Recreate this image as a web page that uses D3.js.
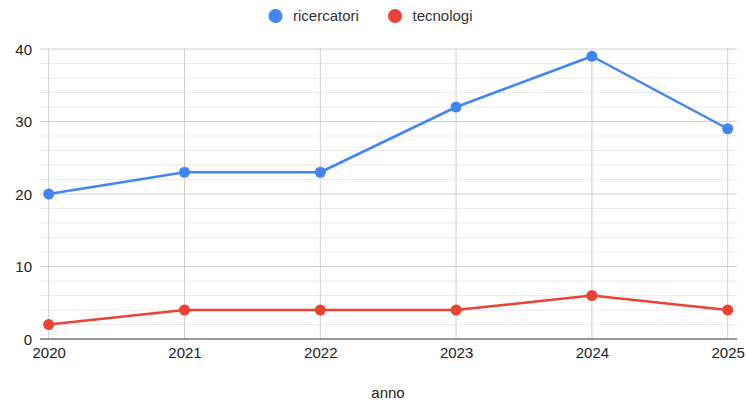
<!DOCTYPE html>
<html>
<head>
<meta charset="utf-8">
<script src="https://cdn.jsdelivr.net/npm/d3@7"></script>
<style>
  html, body { margin: 0; padding: 0; background: #fff; }
  svg { display: block; font-family: Arial, "Liberation Sans", sans-serif; }
</style>
</head>
<body>
<svg id="chart" width="747" height="400"></svg>
<script>
// Anni e valori delle due serie
const years = [2020, 2021, 2022, 2023, 2024, 2025];
const ricercatori = [20, 23, 23, 32, 39, 29];
const tecnologi = [2, 4, 4, 4, 6, 4];
const yTicks = [0, 10, 20, 30, 40];
const seriesNames = ["ricercatori", "tecnologi"];
const seriesColors = ["#4285f4", "#ea4335"];

const svg = d3.select("#chart");
const plotLeft = 48.7, plotRight = 727.7, plotTop = 49, plotBottom = 339;

const x = d3.scaleLinear().domain([2020, 2025]).range([plotLeft, plotRight]);
const y = d3.scaleLinear().domain([0, 40]).range([plotBottom, plotTop]);

// Griglia secondaria (ogni 2 unità)
const minor = d3.range(0, 41, 2).filter(v => v % 10 !== 0);
svg.append("g").selectAll("line").data(minor).join("line")
  .attr("x1", 40).attr("x2", 737)
  .attr("y1", d => y(d)).attr("y2", d => y(d))
  .attr("stroke", "#ebebeb").attr("stroke-width", 1);

// Griglia principale
svg.append("g").selectAll("line").data(yTicks.filter(v => v > 0)).join("line")
  .attr("x1", 40).attr("x2", 737)
  .attr("y1", d => y(d)).attr("y2", d => y(d))
  .attr("stroke", "#d0d0d0").attr("stroke-width", 1);

// Linee verticali per ogni anno
svg.append("g").selectAll("line").data(years).join("line")
  .attr("x1", d => x(d)).attr("x2", d => x(d))
  .attr("y1", plotTop).attr("y2", plotBottom)
  .attr("stroke", "#d0d0d0").attr("stroke-width", 1);

// Asse di base
svg.append("line")
  .attr("x1", 40).attr("x2", 737)
  .attr("y1", plotBottom).attr("y2", plotBottom)
  .attr("stroke", "#333").attr("stroke-width", 1.2);

// Etichette asse Y
const yAxis = d3.axisLeft(y).tickValues(yTicks).tickSize(0).tickPadding(0);
const gy = svg.append("g").attr("transform", "translate(32,0)").call(yAxis);
gy.select(".domain").remove();
gy.selectAll("text").attr("font-size", 15).attr("fill", "#222")
  .attr("font-family", "Arial, 'Liberation Sans', sans-serif").attr("dy", "0.35em");

// Etichette asse X
const xAxis = d3.axisBottom(x).tickValues(years).tickFormat(d3.format("d")).tickSize(0).tickPadding(0);
const gx = svg.append("g").attr("transform", `translate(0,${plotBottom + 8})`).call(xAxis);
gx.select(".domain").remove();
gx.selectAll("text").attr("font-size", 15).attr("fill", "#222")
  .attr("font-family", "Arial, 'Liberation Sans', sans-serif").attr("dy", "0.75em");

// Titolo asse X
svg.append("text").attr("x", 388).attr("y", 397.5).attr("text-anchor", "middle")
  .attr("font-size", 15).attr("fill", "#222").text("anno");

// Serie
const allSeries = [ricercatori, tecnologi];
const line = d3.line().x((d, i) => x(years[i])).y(d => y(d));
allSeries.forEach((vals, k) => {
  svg.append("path").datum(vals)
    .attr("d", line).attr("fill", "none")
    .attr("stroke", seriesColors[k]).attr("stroke-width", 2.5)
    .attr("stroke-linejoin", "round");
  svg.append("g").selectAll("circle").data(vals).join("circle")
    .attr("cx", (d, i) => x(years[i])).attr("cy", d => y(d)).attr("r", 5.5)
    .attr("fill", seriesColors[k]);
});

// Legenda
const legendX = [275.5, 395];
const lg = svg.append("g");
seriesNames.forEach((name, k) => {
  lg.append("circle").attr("cx", legendX[k]).attr("cy", 16).attr("r", 7)
    .attr("fill", seriesColors[k]);
  lg.append("text").attr("x", legendX[k] + 17.5).attr("y", 16).attr("dy", "0.35em")
    .attr("font-size", 15).attr("fill", "#333").text(name);
});
</script>
</body>
</html>
